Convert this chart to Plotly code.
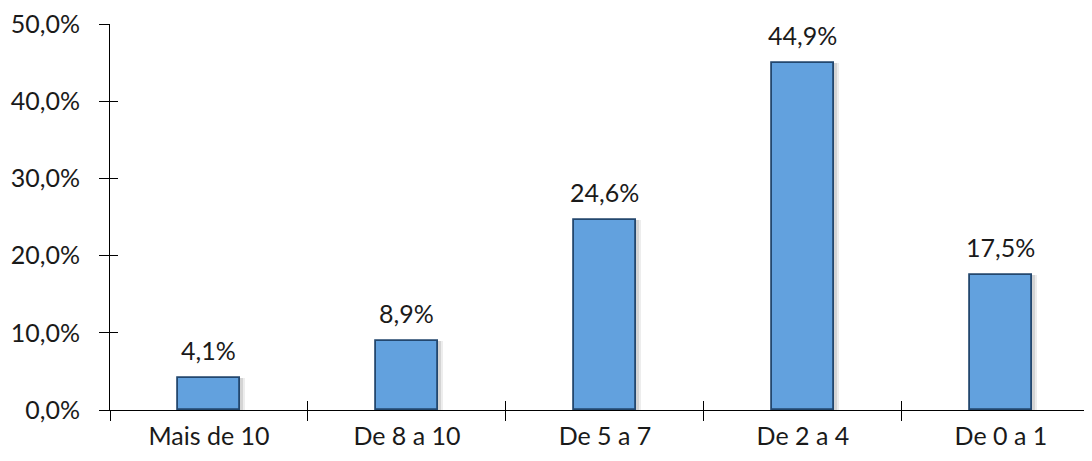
import plotly.graph_objects as go

categories = ["Mais de 10", "De 8 a 10", "De 5 a 7", "De 2 a 4", "De 0 a 1"]
values = [4.1, 8.9, 24.6, 44.9, 17.5]
value_labels = ["4,1%", "8,9%", "24,6%", "44,9%", "17,5%"]
y_ticks = [0, 10, 20, 30, 40, 50]
y_tick_labels = ["0,0%", "10,0%", "20,0%", "30,0%", "40,0%", "50,0%"]

FONT = "Lato, 'Open Sans', sans-serif"
TXT = "#1a1a1a"
FS = 25

fig = go.Figure()

# soft shadow (two layers)
fig.add_trace(go.Bar(
    x=categories, y=values, width=0.33, offset=-0.15,
    marker=dict(color="rgba(0,0,0,0.07)", line=dict(width=0)),
    hoverinfo="skip", showlegend=False,
))
fig.add_trace(go.Bar(
    x=categories, y=values, width=0.32, offset=-0.15,
    marker=dict(color="rgba(0,0,0,0.10)", line=dict(width=0)),
    hoverinfo="skip", showlegend=False,
))
fig.add_trace(go.Bar(
    x=categories, y=values, width=0.31,
    marker=dict(color="#62A1DE", line=dict(color="#23476E", width=1.8)),
    showlegend=False,
))

for c, v, t in zip(categories, values, value_labels):
    fig.add_annotation(x=c, y=v, text=t, showarrow=False, yanchor="bottom",
                       yshift=11, font=dict(family=FONT, size=FS, color=TXT))

# invisible trace for the crossing-tick overlay axes
fig.add_trace(go.Scatter(x=[0], y=[0], xaxis="x2", yaxis="y2", mode="markers",
                         marker=dict(opacity=0), hoverinfo="skip", showlegend=False))

fig.update_layout(
    width=1084, height=453,
    margin=dict(l=102, r=0, t=16, b=51),
    paper_bgcolor="white", plot_bgcolor="white",
    barmode="overlay", bargap=0,
    font=dict(family=FONT, size=FS, color=TXT),
    xaxis=dict(
        type="category", range=[-0.5, 4.46], tickson="boundaries",
        ticks="outside", ticklen=10, tickcolor="#000", tickwidth=1,
        showline=True, linecolor="#000", linewidth=1,
        showgrid=False, zeroline=False, ticklabelstandoff=4,
        tickfont=dict(family=FONT, size=FS, color=TXT),
    ),
    yaxis=dict(
        range=[0, 50], tickvals=y_ticks, ticktext=y_tick_labels,
        ticks="outside", ticklen=10, tickcolor="#000", tickwidth=1,
        showline=True, linecolor="#000", linewidth=1,
        showgrid=False, zeroline=False, ticklabelstandoff=14,
        ticklabeloverflow="allow",
        tickfont=dict(family=FONT, size=FS, color=TXT),
    ),
    xaxis2=dict(
        overlaying="x", anchor="y2", range=[-0.5, 4.46],
        tickvals=[0.5, 1.5, 2.5, 3.5], ticks="inside", ticklen=9,
        tickcolor="#000", tickwidth=1, showticklabels=False,
        showline=False, showgrid=False, zeroline=False,
    ),
    yaxis2=dict(
        overlaying="y", anchor="x2", range=[0, 50],
        tickvals=y_ticks, ticks="inside", ticklen=8,
        tickcolor="#000", tickwidth=1, showticklabels=False,
        showline=False, showgrid=False, zeroline=False,
    ),
)

fig.write_html("out.html")
